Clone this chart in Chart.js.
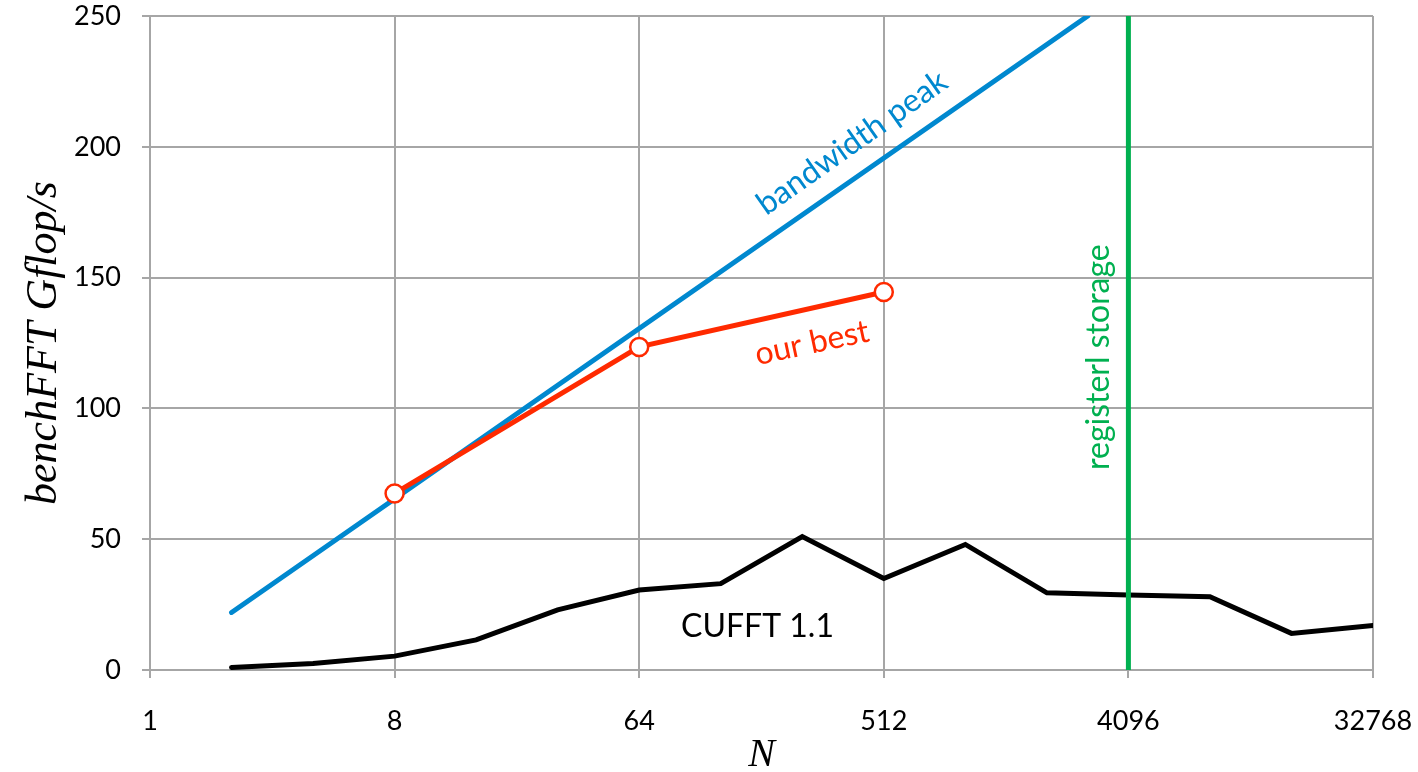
<!DOCTYPE html>
<html>
<head>
<meta charset="utf-8">
<script src="https://cdn.jsdelivr.net/npm/chart.js@4"></script>
<style>
  html, body { margin: 0; padding: 0; background: #fff; }
  #wrap { width: 1418px; height: 772px; }
</style>
</head>
<body>
<div id="wrap"><canvas id="chart"></canvas></div>
<script>
const xTicks = [1, 8, 64, 512, 4096, 32768];

const cufftN = [2, 4, 8, 16, 32, 64, 128, 256, 512, 1024, 2048, 4096, 8192, 16384, 32768];
const cufftGflops = [1, 2.5, 5.3, 11.5, 23, 30.6, 33, 51, 35, 48, 29.5, 28.7, 28, 14, 17];

const peakN = [2, 2900];
const peakGflops = [22, 250];

const bestN = [8, 64, 512];
const bestGflops = [67.5, 123.5, 144.5];

const registerN = [4096, 4096];
const registerGflops = [0, 250];

const toPoints = (xs, ys) => xs.map((x, i) => ({ x: x, y: ys[i] }));

// text labels placed in data coordinates
const notes = [
    { text: 'bandwidth peak', x: 391, y: 201.5, angle: -35.2, color: '#0088cf' },
    { text: 'our best', x: 278, y: 125, angle: -12, color: '#ff2a00' },
    { text: 'CUFFT 1.1', x: 175, y: 16.4, angle: 0, color: '#000000' },
    { text: 'registerl storage', x: 3170, y: 119.6, angle: -90, color: '#00b050' },
];

const notesPlugin = {
    id: 'notes',
    afterDatasetsDraw(chart) {
        const ctx = chart.ctx;
        const xs = chart.scales.x;
        const ys = chart.scales.y;
        ctx.save();
        ctx.font = '32px Lato';
        ctx.textAlign = 'center';
        ctx.textBaseline = 'middle';
        notes.forEach(n => {
            ctx.save();
            ctx.translate(xs.getPixelForValue(n.x), ys.getPixelForValue(n.y));
            ctx.rotate(n.angle * Math.PI / 180);
            ctx.fillStyle = n.color;
            ctx.fillText(n.text, 0, 0);
            ctx.restore();
        });
        ctx.restore();
    }
};

const gridColor = '#a6a6a6';

const config = {
    type: 'line',
    data: {
        datasets: [
            {
                label: 'registerl storage',
                data: toPoints(registerN, registerGflops),
                borderColor: '#00b050',
                borderWidth: 5,
                pointRadius: 0,
            },
            {
                label: 'our best',
                data: toPoints(bestN, bestGflops),
                borderColor: '#ff2a00',
                borderWidth: 5,
                pointRadius: 9,
                pointBorderWidth: 2.5,
                pointBackgroundColor: '#ffffff',
                pointBorderColor: '#ff2a00',
            },
            {
                label: 'bandwidth peak',
                data: toPoints(peakN, peakGflops),
                borderColor: '#0088cf',
                borderWidth: 5,
                pointRadius: 0,
                borderCapStyle: 'round',
            },
            {
                label: 'CUFFT 1.1',
                data: toPoints(cufftN, cufftGflops),
                borderColor: '#000000',
                borderWidth: 5,
                pointRadius: 0,
                borderCapStyle: 'round',
            },
        ]
    },
    options: {
        responsive: true,
        maintainAspectRatio: false,
        animation: false,
        layout: { padding: { left: 0, top: 16, right: 45, bottom: 0 } },
        plugins: {
            legend: { display: false },
            tooltip: { enabled: false },
        },
        scales: {
            x: {
                type: 'logarithmic',
                min: 1,
                max: 32768,
                afterBuildTicks: scale => {
                    scale.ticks = xTicks.map(v => ({ value: v }));
                },
                afterFit: scale => {
                    scale.height = 102;
                    scale.paddingLeft = 0;
                    scale.paddingRight = 0;
                },
                grid: { color: gridColor, lineWidth: 2, tickLength: 8 },
                border: { color: gridColor, width: 2 },
                ticks: {
                    color: '#000',
                    font: { family: 'Lato', size: 27 },
                    padding: 27,
                    maxRotation: 0,
                    autoSkip: false,
                    callback: v => String(v),
                },
                title: {
                    display: true,
                    text: 'N',
                    color: '#000',
                    font: { family: 'Liberation Serif', size: 40, style: 'italic', lineHeight: 0.85 },
                    padding: { top: 0, bottom: 0 },
                },
            },
            y: {
                min: 0,
                max: 250,
                afterFit: scale => {
                    scale.width = 150;
                    scale.paddingTop = 0;
                    scale.paddingBottom = 0;
                },
                grid: { color: gridColor, lineWidth: 2, tickLength: 8 },
                border: { color: gridColor, width: 2 },
                ticks: {
                    stepSize: 50,
                    color: '#000',
                    font: { family: 'Lato', size: 27 },
                    padding: 21,
                },
                title: {
                    display: true,
                    text: 'benchFFT Gflop/s',
                    color: '#000',
                    font: { family: 'Liberation Serif', size: 44, style: 'italic' },
                    padding: { top: 18, bottom: 0 },
                },
            },
        },
    },
    plugins: [notesPlugin],
};

new Chart(
    document.getElementById('chart'),
    config
);
</script>
</body>
</html>
